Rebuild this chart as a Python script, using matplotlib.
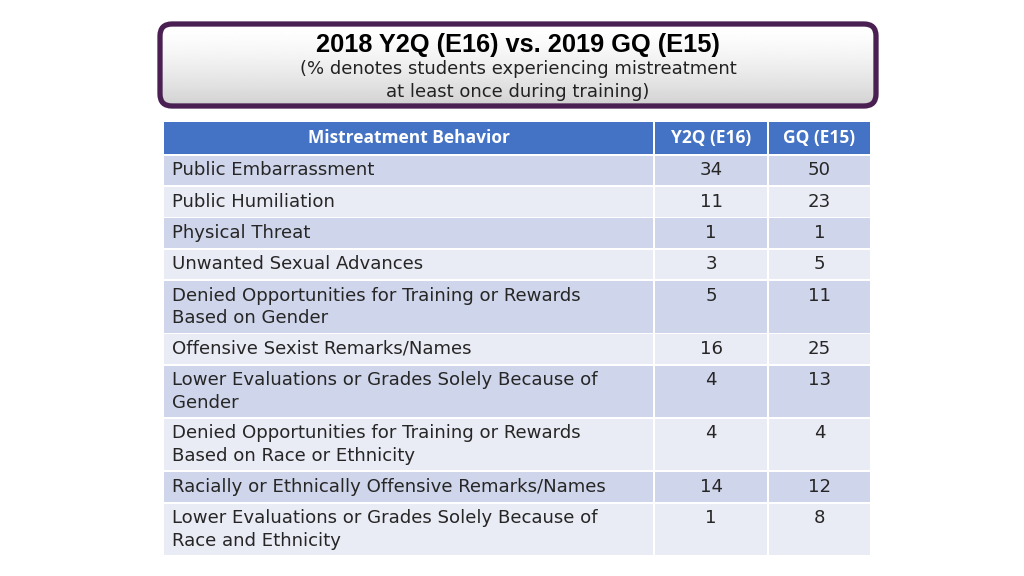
import numpy as np
import matplotlib.pyplot as plt
from matplotlib.patches import FancyBboxPatch, Rectangle

# Dữ liệu bảng
behaviors = [
    "Public Embarrassment",
    "Public Humiliation",
    "Physical Threat",
    "Unwanted Sexual Advances",
    "Denied Opportunities for Training or Rewards\nBased on Gender",
    "Offensive Sexist Remarks/Names",
    "Lower Evaluations or Grades Solely Because of\nGender",
    "Denied Opportunities for Training or Rewards\nBased on Race or Ethnicity",
    "Racially or Ethnically Offensive Remarks/Names",
    "Lower Evaluations or Grades Solely Because of\nRace and Ethnicity",
]
y2q_e16 = [34, 11, 1, 3, 5, 16, 4, 4, 14, 1]
gq_e15 = [50, 23, 1, 5, 11, 25, 13, 4, 12, 8]
headers = ["Mistreatment Behavior", "Y2Q (E16)", "GQ (E15)"]

title = "2018 Y2Q (E16) vs. 2019 GQ (E15)"
subtitle = "(% denotes students experiencing mistreatment\nat least once during training)"

body_font = ["DejaVu Sans"]
head_font = ["Open Sans", "DejaVu Sans"]

fig = plt.figure(figsize=(10.24, 5.76), dpi=100)
ax = fig.add_axes([0, 0, 1, 1])
ax.set_xlim(0, 1024)
ax.set_ylim(576, 0)
ax.axis("off")

# Hộp tiêu đề
box = FancyBboxPatch((160, 24), 716, 82, boxstyle="round,pad=0,rounding_size=12",
                     facecolor="none", edgecolor="#4a1f52", linewidth=3.8, zorder=3)
ax.add_patch(box)
grad = np.linspace(0, 1, 100).reshape(-1, 1)
grad = 1 - 0.18 * grad ** 1.5
im = ax.imshow(grad, cmap="gray", vmin=0, vmax=1, extent=(160, 876, 106, 24),
               aspect="auto", zorder=2)
im.set_clip_path(box)
ax.text(518, 45, title, ha="center", va="center", fontsize=18.3, fontweight="bold",
        family=["Liberation Sans", "DejaVu Sans"], color="black", zorder=4)
ax.text(518, 80.5, subtitle, ha="center", va="center", fontsize=13,
        family=body_font, color="#222222", linespacing=1.33, zorder=4)

# Bảng
col_x = [164, 655, 769]
col_w = [489, 112, 101]
gap = 1.8
head_top, head_h = 122, 32

for x, w, h in zip(col_x, col_w, headers):
    ax.add_patch(Rectangle((x, head_top), w, head_h, facecolor="#4472c4", edgecolor="none"))
    ax.text(x + w / 2, head_top + head_h / 2, h, ha="center", va="center",
            fontsize=12.5, fontweight="bold", color="white", family=head_font)

y = head_top + head_h + gap
for i, (name, a, b) in enumerate(zip(behaviors, y2q_e16, gq_e15)):
    nlines = name.count("\n") + 1
    h = 29.5 if nlines == 1 else 51.5
    color = "#cfd5ea" if i % 2 == 0 else "#e9ebf5"
    for x, w in zip(col_x, col_w):
        ax.add_patch(Rectangle((x, y), w, h, facecolor=color, edgecolor="none"))
    ty = y + 5.5
    ax.text(col_x[0] + 8, ty, name, ha="left", va="top", fontsize=13.1,
            family=body_font, color="#262626", linespacing=1.33)
    ax.text(col_x[1] + col_w[1] / 2, ty, str(a), ha="center", va="top", fontsize=13.1,
            family=body_font, color="#262626")
    ax.text(col_x[2] + col_w[2] / 2, ty, str(b), ha="center", va="top", fontsize=13.1,
            family=body_font, color="#262626")
    y += h + gap

fig.savefig("out.png", dpi=100)
